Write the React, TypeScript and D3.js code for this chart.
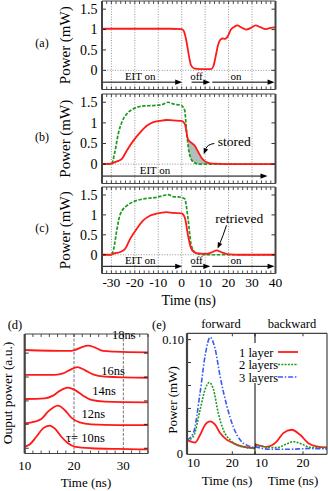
import * as d3 from "d3";

const FONT = "Liberation Serif, 'Times New Roman', serif";
const RED = "#ff1a1a";
const GREEN = "#1f9a1f";
const BLUE = "#3a5cf0";
const FRAME = "#444";

// ---------- panels (a)–(c): power vs time ----------
const X_TICKS = [-30, -20, -10, 0, 10, 20, 30, 40];
const Y_TICKS = [0, 0.5, 1, 1.5];

const A_T = [-34, -20, -5, 0, 1, 2, 3, 4, 5.5, 8, 12.5, 13.5, 14.5, 15.5, 16.5, 17.5, 18.5, 19.5, 21, 22.5, 23.8, 25.5, 27.5, 29.5, 31.5, 33.5, 35.8, 38, 40];
const A_RED = [1.02, 1.02, 1.02, 1.01, 0.95, 0.72, 0.38, 0.12, 0.04, 0.03, 0.03, 0.1, 0.35, 0.62, 0.75, 0.78, 0.77, 0.82, 1.0, 1.07, 1.1, 1.05, 1.0, 1.04, 1.1, 1.06, 1.01, 1.04, 1.06];

const B_RED_T = [-34, -30, -28.5, -27, -25.5, -23.4, -20.6, -17.7, -14.9, -12.1, -9.3, -6.5, -3.7, -0.1, 1.3, 2.7, 4.1, 5.5, 7, 8.5, 10.4, 13, 20, 40];
const B_RED = [0, 0.01, 0.05, 0.08, 0.13, 0.33, 0.57, 0.77, 0.93, 1.02, 1.05, 1.07, 1.06, 1.05, 0.98, 0.6, 0.52, 0.45, 0.3, 0.15, 0.05, 0.01, 0, 0];
const B_GREEN_T = [-34, -30, -28.5, -27, -25.5, -23.4, -20.6, -16.4, -12, -8, -5.8, -3.7, -0.1, 1.3, 2.0, 3.1, 4.8, 7.6, 40];
const B_GREEN = [0, 0, 0.3, 0.75, 1.02, 1.22, 1.34, 1.41, 1.42, 1.45, 1.5, 1.46, 1.42, 1.3, 0.85, 0.3, 0.06, 0, 0];

const C_RED_T = [-34, -30, -29, -26.2, -24.1, -22, -19.2, -16.4, -13.6, -10.8, -6.5, -3.7, -0.1, 1.3, 2.7, 4.1, 6.2, 10.4, 13.2, 14.9, 16.7, 20.2, 24.4, 40];
const C_RED = [0, 0, 0.03, 0.07, 0.15, 0.4, 0.65, 0.86, 0.98, 1.03, 1.07, 1.05, 1.04, 0.94, 0.48, 0.15, 0.04, 0.02, 0.07, 0.11, 0.07, 0.01, 0, 0];
const C_GREEN_T = [-34, -30, -29, -27.6, -26.2, -23.4, -20.6, -16.4, -10.8, -8, -5.8, -3.7, -0.1, 1.3, 2.7, 4.1, 6.2, 10, 40];
const C_GREEN = [0, 0, 0.15, 0.65, 1.02, 1.23, 1.33, 1.4, 1.44, 1.48, 1.51, 1.46, 1.44, 1.4, 0.9, 0.23, 0.04, 0, 0];

// ---------- panel (d): output pulses for different tau ----------
const D_TAUS = ["τ= 10ns", "12ns", "14ns", "16ns", "18ns"];
const D_T = [
  [10, 11, 12.36, 13.71, 15.06, 16.08, 17.43, 18.78, 20.14, 23.52, 28.92, 35],
  [10, 12, 13.37, 14.73, 16.75, 18.11, 19.46, 21.15, 23.52, 28.92, 35],
  [10, 14.05, 15.74, 17.09, 18.65, 20.14, 21.83, 23.52, 26.22, 35],
  [10, 16.08, 17.77, 19.12, 20.68, 22.16, 23.85, 26.22, 35],
  [10, 18.78, 20.14, 21.49, 22.84, 24.19, 25.88, 28.25, 35],
];
const D_V = [
  [0.29, 0.38, 0.7, 1.05, 1.17, 1.05, 0.7, 0.43, 0.29, 0.22, 0.19, 0.17],
  [1.26, 1.33, 1.44, 1.75, 2.0, 1.82, 1.5, 1.3, 1.22, 1.19, 1.19],
  [2.28, 2.31, 2.42, 2.62, 2.76, 2.66, 2.42, 2.24, 2.17, 2.14],
  [3.29, 3.29, 3.35, 3.49, 3.61, 3.49, 3.31, 3.22, 3.17],
  [4.33, 4.29, 4.33, 4.44, 4.51, 4.44, 4.29, 4.26, 4.23],
];
const D_BASE_TICKS = [0.22, 1.22, 2.2, 3.2, 4.2];
const D_X_TICKS = [10, 20, 30];

// ---------- panel (e): forward / backward retrieved power ----------
const E_LAYERS = ["1 layer", "2 layers", "3 layers"];
const E_FWD_T = [
  [10, 11.8, 12.9, 14, 15.1, 16.2, 17.3, 18.8, 20.2, 21.7, 25],
  [10, 11.4, 12.9, 14, 14.9, 15.8, 16.9, 18.0, 19.5, 21.7, 25],
  [10, 11.4, 12.9, 14, 15.1, 16.2, 17.3, 18.8, 20.2, 21.7, 23.2, 25],
];
const E_FWD_V = [
  [0.0126, 0.0103, 0.017, 0.0258, 0.0287, 0.0258, 0.0185, 0.0126, 0.0097, 0.0073, 0.0053],
  [0.012, 0.0155, 0.039, 0.0567, 0.0626, 0.057, 0.036, 0.0214, 0.0126, 0.007, 0.005],
  [0.0126, 0.0185, 0.054, 0.086, 0.102, 0.092, 0.068, 0.042, 0.024, 0.0126, 0.008, 0.006],
];
const E_BWD_T = [
  [10, 12.4, 14.5, 15.9, 17.6, 19.4, 21.1, 22.8, 25],
  [10, 14.5, 16.6, 18.0, 19.7, 21.5, 25],
  [10, 13, 17, 21.5, 25],
];
const E_BWD_V = [
  [0.009, 0.0065, 0.011, 0.0185, 0.0214, 0.017, 0.0097, 0.007, 0.006],
  [0.008, 0.0058, 0.009, 0.011, 0.009, 0.006, 0.0055],
  [0.0067, 0.0044, 0.0044, 0.005, 0.0047],
];
const E_Y_TICKS = [0.02, 0.04, 0.06, 0.08, 0.1];
const E_X_TICKS = [10, 20];

const zip = (t: number[], v: number[]) => t.map((x, i) => [x, v[i]] as [number, number]);
// plain hyphen minus, as in the original figure
const fmt = (v: number) => String(v);

// shared scales for (a)-(c)
const xABC = d3.scaleLinear().domain([-34, 40]).range([102, 275.5]);
const yDomain: [number, number] = [-0.47, 1.7];

function Arrow({ x1, x2, y }: { x1: number; x2: number; y: number }) {
  return (
    <g>
      <line x1={x1} x2={x2 - 5} y1={y} y2={y} stroke="#000" strokeWidth={1} />
      <polygon points={`${x2},${y} ${x2 - 7},${y - 2.6} ${x2 - 7},${y + 2.6}`} fill="#000" />
    </g>
  );
}

function CurvedArrow({ p0, c, p1 }: { p0: [number, number]; c: [number, number]; p1: [number, number] }) {
  const a = Math.atan2(p1[1] - c[1], p1[0] - c[0]);
  const L = 6, W = 2.4;
  const bx = p1[0] - L * Math.cos(a), by = p1[1] - L * Math.sin(a);
  const pts = [
    [p1[0], p1[1]],
    [bx + W * Math.sin(a), by - W * Math.cos(a)],
    [bx - W * Math.sin(a), by + W * Math.cos(a)],
  ];
  return (
    <g>
      <path d={`M${p0[0]},${p0[1]} Q${c[0]},${c[1]} ${bx},${by}`} fill="none" stroke="#000" strokeWidth={1} />
      <polygon points={pts.map((p) => p.join(",")).join(" ")} fill="#000" />
    </g>
  );
}

type ArrowSpec = { from: number; to: number; label: string; at: number };

function PanelABC({
  top, bottom, tag, red, green, arrows, showX, idx, stored, retrieved,
}: {
  top: number; bottom: number; tag: string; red: [number, number][]; green?: [number, number][];
  arrows: ArrowSpec[]; showX?: boolean; idx: number; stored?: boolean; retrieved?: boolean;
}) {
  const y = d3.scaleLinear().domain(yDomain).range([bottom, top]);
  const line = d3.line<[number, number]>().x((d) => xABC(d[0])).y((d) => y(d[1])).curve(d3.curveMonotoneX);
  const [x0, x1] = xABC.range();
  const minor = d3.range(-34, 40.01, 2);
  const arrowY = y(-0.29);
  const clipId = `clip-stored-${idx}`;
  let storedEls = null;
  if (stored && green) {
    const above = d3.area<[number, number]>().x((d) => xABC(d[0])).y0(top).y1((d) => y(d[1])).curve(d3.curveMonotoneX);
    const under = d3.area<[number, number]>().x((d) => xABC(d[0])).y0(y(0)).y1((d) => y(d[1])).curve(d3.curveMonotoneX);
    storedEls = (
      <g>
        <clipPath id={clipId}>
          <path d={above(green.filter((d) => d[0] >= -1)) || ""} />
        </clipPath>
        <path d={under(red.filter((d) => d[0] >= -1)) || ""} fill="#b1bfbb" clipPath={`url(#${clipId})`} />
      </g>
    );
  }
  return (
    <g fontFamily={FONT}>
      {/* grid */}
      {X_TICKS.filter((t) => t < 40).map((t) => (
        <line key={t} x1={xABC(t)} x2={xABC(t)} y1={top} y2={bottom} stroke="#777" strokeWidth={0.8} strokeDasharray="1 1.6" />
      ))}
      <line x1={x0} x2={x1} y1={y(0)} y2={y(0)} stroke="#777" strokeWidth={0.8} strokeDasharray="1 1.6" />
      {storedEls}
      {green && <path d={line(green) || ""} fill="none" stroke={GREEN} strokeWidth={1.7} strokeDasharray="3.5 1.5" />}
      <path d={line(red) || ""} fill="none" stroke={RED} strokeWidth={1.8} />
      {/* arrows */}
      {arrows.map((a) => (
        <g key={a.label}>
          <Arrow x1={xABC(a.from)} x2={xABC(a.to)} y={arrowY} />
          <text x={xABC(a.at)} y={arrowY - 2.5} fontSize={11} textAnchor="middle">{a.label}</text>
        </g>
      ))}
      {stored && (
        <g>
          <text x={xABC(22.4)} y={y(0.45)} fontSize={13.5} textAnchor="middle">stored</text>
          <CurvedArrow p0={[xABC(13.9), y(0.5)]} c={[xABC(11), y(0.48)]} p1={[xABC(9.4), y(0.24)]} />
        </g>
      )}
      {retrieved && (
        <g>
          <text x={xABC(24.5)} y={y(0.79)} fontSize={13.5} textAnchor="middle">retrieved</text>
          <CurvedArrow p0={[xABC(19.1), y(0.74)]} c={[xABC(17.5), y(0.45)]} p1={[xABC(15.3), y(0.16)]} />
        </g>
      )}
      {/* ticks */}
      {minor.map((t) => (
        <g key={"m" + t}>
          <line x1={xABC(t)} x2={xABC(t)} y1={bottom} y2={bottom - 3} stroke="#000" strokeWidth={0.7} />
          <line x1={xABC(t)} x2={xABC(t)} y1={top} y2={top + 3} stroke="#000" strokeWidth={0.7} />
        </g>
      ))}
      {Y_TICKS.map((v) => (
        <g key={"y" + v}>
          <line x1={x0} x2={x0 + 4} y1={y(v)} y2={y(v)} stroke="#000" strokeWidth={0.8} />
          <line x1={x1} x2={x1 - 4} y1={y(v)} y2={y(v)} stroke="#000" strokeWidth={0.8} />
          <text x={97.5} y={y(v) + 4.8} fontSize={14} textAnchor="end">{fmt(v)}</text>
        </g>
      ))}
      {/* frame */}
      <line x1={x0} x2={x1} y1={top} y2={top} stroke={FRAME} strokeWidth={1.2} />
      <line x1={x0} x2={x1} y1={bottom} y2={bottom} stroke={FRAME} strokeWidth={1.2} />
      <line x1={x0} x2={x0} y1={top} y2={bottom} stroke={FRAME} strokeWidth={2} />
      <line x1={x1} x2={x1} y1={top} y2={bottom} stroke={FRAME} strokeWidth={2} />
      {showX &&
        X_TICKS.map((t) => (
          <text key={"xl" + t} x={xABC(t)} y={bottom + 13.5} fontSize={13.5} textAnchor="middle">
            {fmt(t)}
          </text>
        ))}
      <text transform={`translate(70,${(top + bottom) / 2}) rotate(-90)`} fontSize={15} textAnchor="middle">Power (mW)</text>
      <text x={42} y={(top + bottom) / 2 + 2} fontSize={12} textAnchor="middle">{tag}</text>
    </g>
  );
}

function PanelD() {
  const x = d3.scaleLinear().domain([10, 35]).range([24.7, 148]);
  const y = d3.scaleLinear().domain([0, 5]).range([453.5, 334]);
  const line = d3.line<[number, number]>().x((d) => x(d[0])).y((d) => y(d[1])).curve(d3.curveMonotoneX);
  const [x0, x1] = x.range();
  const [yb, yt] = y.range();
  const minor = d3.range(10, 35.01, 10 / 6);
  const labelPos: [number, number][] = [[22.3, 0.48], [23.9, 1.49], [26.1, 2.45], [27.9, 3.28], [30.1, 4.79]];
  return (
    <g fontFamily={FONT}>
      {D_X_TICKS.filter((t) => t > 10).map((t) => (
        <line key={t} x1={x(t)} x2={x(t)} y1={yt} y2={yb} stroke="#555" strokeWidth={0.8} strokeDasharray="3 1.5" />
      ))}
      {D_T.map((ts, i) => (
        <path key={i} d={line(zip(ts, D_V[i])) || ""} fill="none" stroke={RED} strokeWidth={1.8} />
      ))}
      {D_TAUS.map((s, i) => (
        <text key={s} x={x(labelPos[i][0])} y={y(labelPos[i][1])} fontSize={12.5} textAnchor="middle">{s}</text>
      ))}
      {minor.map((t) => (
        <g key={"m" + t}>
          <line x1={x(t)} x2={x(t)} y1={yb} y2={yb - 3} stroke="#000" strokeWidth={0.7} />
          <line x1={x(t)} x2={x(t)} y1={yt} y2={yt + 3} stroke="#000" strokeWidth={0.7} />
        </g>
      ))}
      {D_BASE_TICKS.map((v) => (
        <g key={"y" + v}>
          <line x1={x0} x2={x0 + 4} y1={y(v)} y2={y(v)} stroke="#000" strokeWidth={0.8} />
          <line x1={x1} x2={x1 - 4} y1={y(v)} y2={y(v)} stroke="#000" strokeWidth={0.8} />
        </g>
      ))}
      <line x1={x0} x2={x1} y1={yt} y2={yt} stroke={FRAME} strokeWidth={1.2} />
      <line x1={x0} x2={x1} y1={yb} y2={yb} stroke={FRAME} strokeWidth={1.2} />
      <line x1={x0} x2={x0} y1={yt} y2={yb} stroke={FRAME} strokeWidth={2.2} />
      <line x1={x1} x2={x1} y1={yt} y2={yb} stroke={FRAME} strokeWidth={1.2} />
      {D_X_TICKS.map((t) => (
        <text key={"xl" + t} x={x(t)} y={470} fontSize={13} textAnchor="middle">{t}</text>
      ))}
      <text x={86} y={487} fontSize={13} textAnchor="middle">Time (ns)</text>
      <text transform={`translate(12,393) rotate(-90)`} fontSize={13.5} textAnchor="middle">Ouput power (a.u.)</text>
      <text x={15} y={329} fontSize={12.5} textAnchor="middle">(d)</text>
    </g>
  );
}

function PanelE() {
  const xf = d3.scaleLinear().domain([10, 25]).range([187, 255]);
  const xb = d3.scaleLinear().domain([10, 25]).range([255, 327]);
  const y = d3.scaleLinear().domain([0, 0.1055]).range([454.3, 333.3]);
  const [yb, yt] = y.range();
  const colors = [RED, GREEN, BLUE];
  const dashes = ["", "2 1.3", "5 1.8 1.5 1.8"];
  const widths = [1.8, 1.6, 1.6];
  const mk = (x: d3.ScaleLinear<number, number>) =>
    d3.line<[number, number]>().x((d) => x(d[0])).y((d) => y(d[1])).curve(d3.curveMonotoneX);
  const lf = mk(xf), lb = mk(xb);
  const legY = [352, 364.5, 377];
  return (
    <g fontFamily={FONT}>
      {E_FWD_T.map((ts, i) => (
        <path key={"f" + i} d={lf(zip(ts, E_FWD_V[i])) || ""} fill="none" stroke={colors[i]} strokeWidth={widths[i]} strokeDasharray={dashes[i]} />
      ))}
      {E_BWD_T.map((ts, i) => (
        <path key={"b" + i} d={lb(zip(ts, E_BWD_V[i])) || ""} fill="none" stroke={colors[i]} strokeWidth={widths[i]} strokeDasharray={dashes[i]} />
      ))}
      {E_Y_TICKS.map((v) => (
        <line key={"y" + v} x1={187} x2={191} y1={y(v)} y2={y(v)} stroke="#000" strokeWidth={0.8} />
      ))}
      {[xf, xb].map((x, k) =>
        E_X_TICKS.map((t) => (
          <g key={k + "x" + t}>
            <line x1={x(t)} x2={x(t)} y1={yb} y2={yb - 3} stroke="#000" strokeWidth={0.8} />
            <line x1={x(t)} x2={x(t)} y1={yt} y2={yt + 3} stroke="#000" strokeWidth={0.8} />
            <text x={x(t) + (t === 10 ? 6.5 : 0)} y={467} fontSize={13} textAnchor="middle">{t}</text>
          </g>
        ))
      )}
      {/* frame */}
      <line x1={187} x2={327} y1={yt} y2={yt} stroke={FRAME} strokeWidth={1.2} />
      <line x1={187} x2={327} y1={yb} y2={yb} stroke={FRAME} strokeWidth={1.2} />
      <line x1={187} x2={187} y1={yt} y2={yb} stroke={FRAME} strokeWidth={2.2} />
      <line x1={255} x2={255} y1={yt} y2={yb} stroke="#000" strokeWidth={1} />
      <line x1={327} x2={327} y1={yt} y2={yb} stroke={FRAME} strokeWidth={1.2} />
      {/* legend */}
      <rect x={236} y={343} width={64} height={40} fill="#fff" />
      {E_LAYERS.map((s, i) => (
        <g key={s}>
          <text x={239} y={legY[i] + 4.5} fontSize={12.5}>{s}</text>
          <line x1={278} x2={298} y1={legY[i]} y2={legY[i]} stroke={colors[i]} strokeWidth={widths[i]} strokeDasharray={dashes[i]} />
        </g>
      ))}
      <text x={184} y={y(0.1) + 4.5} fontSize={12.5} textAnchor="end">0.10</text>
      <text x={183} y={y(0) + 4} fontSize={12.5} textAnchor="end">0</text>
      <text x={221} y={328} fontSize={12.5} textAnchor="middle">forward</text>
      <text x={292} y={328} fontSize={12.5} textAnchor="middle">backward</text>
      <text x={227} y={485} fontSize={13} textAnchor="middle">Time (ns)</text>
      <text x={293} y={485} fontSize={13} textAnchor="middle">Time (ns)</text>
      <text transform={`translate(177,400) rotate(-90)`} fontSize={13} textAnchor="middle">Power (mW)</text>
      <text x={159} y={329} fontSize={12.5} textAnchor="middle">(e)</text>
    </g>
  );
}

export default function App() {
  const arrowsAC: ArrowSpec[] = [
    { from: -34, to: 0.2, label: "EIT on", at: -17.7 },
    { from: 4.2, to: 12.2, label: "off", at: 6.3 },
    { from: 13, to: 39.6, label: "on", at: 23.2 },
  ];
  const arrowsB: ArrowSpec[] = [{ from: -34, to: 36.6, label: "EIT on", at: -11.4 }];
  return (
    <div style={{ position: "fixed", left: 0, top: 0, background: "#fff" }}>
      <svg width={328} height={491} viewBox="0 0 328 491" style={{ display: "block" }}>
        <rect width={328} height={491} fill="#fff" />
        <PanelABC idx={0} top={1} bottom={89.5} tag="(a)" red={zip(A_T, A_RED)} arrows={arrowsAC} />
        <PanelABC idx={1} top={94} bottom={183.5} tag="(b)" red={zip(B_RED_T, B_RED)} green={zip(B_GREEN_T, B_GREEN)} arrows={arrowsB} stored />
        <PanelABC idx={2} top={187} bottom={273.5} tag="(c)" red={zip(C_RED_T, C_RED)} green={zip(C_GREEN_T, C_GREEN)} arrows={arrowsAC} showX retrieved />
        <text x={xABC(3)} y={304.5} fontFamily={FONT} fontSize={14} textAnchor="middle">Time (ns)</text>
        <PanelD />
        <PanelE />
      </svg>
    </div>
  );
}
